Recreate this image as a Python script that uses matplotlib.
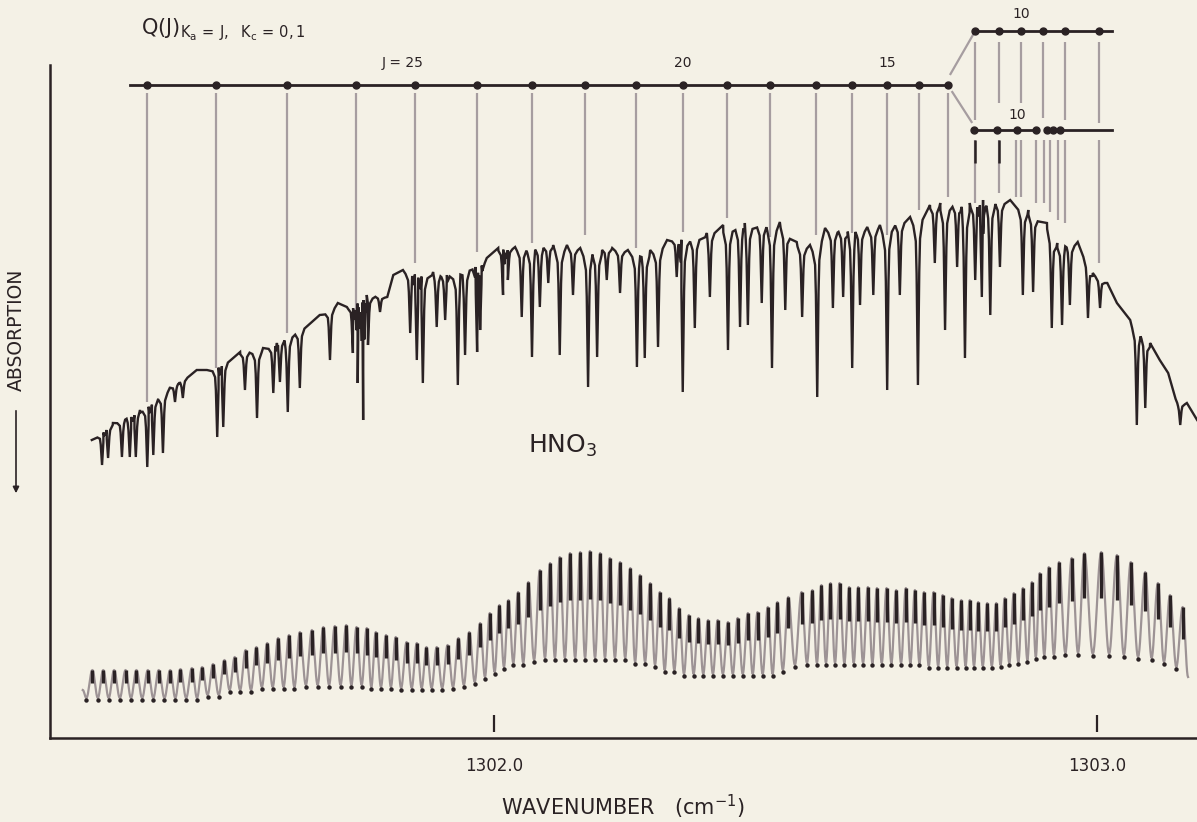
import numpy as np
import matplotlib
matplotlib.use("Agg")
import matplotlib.pyplot as plt

plt.rcParams['font.family'] = ['DejaVu Sans']
plt.rcParams['mathtext.fontset'] = 'dejavusans'

# ---------------- data (wavenumber in cm^-1, heights in arbitrary chart units) ----------------
tick_values = [1302.0, 1303.0]
tick_labels = ['1302.0', '1303.0']
x_range = [1301.2637, 1303.1658]

# HNO3 absorption spectrum: envelope between lines
cont_wn = [1301.333, 1301.368, 1301.413, 1301.463, 1301.479, 1301.507, 1301.524, 1301.579, 1301.617, 1301.640,
           1301.711, 1301.741, 1301.756, 1301.789, 1301.823, 1301.833, 1301.849, 1301.899, 1301.922, 1301.988,
           1302.007, 1302.035, 1302.098, 1302.121, 1302.143, 1302.196, 1302.222, 1302.259, 1302.287, 1302.353,
           1302.380, 1302.416, 1302.474, 1302.502, 1302.524, 1302.549, 1302.619, 1302.640, 1302.690, 1302.723,
           1302.740, 1302.789, 1302.811, 1302.856, 1302.886, 1302.917, 1302.934, 1302.968, 1302.993, 1303.017,
           1303.033, 1303.055, 1303.088, 1303.104, 1303.118, 1303.133, 1303.149, 1303.166]
cont_h = [298, 315, 328, 351, 356, 368, 368, 386, 390, 395,
          423, 435, 431, 443, 441, 463, 468, 466, 463, 480,
          490, 491, 493, 493, 490, 490, 488, 488, 498, 505,
          513, 515, 516, 496, 493, 510, 511, 513, 521, 533,
          535, 535, 538, 538, 528, 515, 495, 496, 465, 455,
          435, 418, 395, 378, 365, 335, 335, 318]

# absorption lines: position and bottom of the dip
line_wn = [1301.350, 1301.360, 1301.383, 1301.396, 1301.406, 1301.425, 1301.435, 1301.451, 1301.471, 1301.484,
           1301.541, 1301.551, 1301.587, 1301.607, 1301.634, 1301.645, 1301.658, 1301.678, 1301.728, 1301.766,
           1301.774, 1301.783, 1301.791, 1301.811, 1301.861, 1301.872, 1301.882, 1301.905, 1301.919, 1301.940,
           1301.952, 1301.972, 1301.977, 1302.015, 1302.023, 1302.046, 1302.063, 1302.076, 1302.090, 1302.109,
           1302.131, 1302.156, 1302.171, 1302.187, 1302.209, 1302.237, 1302.250, 1302.272, 1302.303, 1302.313,
           1302.333, 1302.358, 1302.388, 1302.408, 1302.421, 1302.444, 1302.461, 1302.483, 1302.511, 1302.536,
           1302.562, 1302.579, 1302.594, 1302.607, 1302.629, 1302.652, 1302.673, 1302.703, 1302.731, 1302.748,
           1302.768, 1302.781, 1302.798, 1302.809, 1302.823, 1302.839, 1302.877, 1302.894, 1302.925, 1302.942,
           1302.955, 1302.985, 1303.005, 1303.066, 1303.080, 1303.138]
line_h = [273, 280, 281, 281, 281, 271, 283, 285, 336, 340,
          301, 311, 348, 320, 345, 356, 326, 350, 378, 385,
          355, 318, 393, 426, 405, 378, 355, 411, 418, 353,
          383, 386, 408, 443, 458, 421, 381, 431, 455, 383,
          443, 351, 381, 458, 445, 371, 380, 391, 461, 346,
          410, 441, 388, 411, 413, 435, 370, 428, 421, 341,
          430, 441, 370, 433, 443, 348, 443, 353, 475, 408,
          471, 380, 458, 441, 423, 471, 443, 446, 410, 413,
          433, 420, 430, 313, 330, 313]

# etalon fringe trace (bottom): peak positions, peak tops, following troughs
fringe_start = [1301.318, 48]
fringe_first_trough = [1301.324, 40]
fringe_end_wn = 1303.151
fringe_peak_wn = [1301.334, 1301.352, 1301.370, 1301.389, 1301.407, 1301.426, 1301.444, 1301.463, 1301.480, 1301.499,
                  1301.516, 1301.534, 1301.553, 1301.570, 1301.588, 1301.606, 1301.624, 1301.642, 1301.660, 1301.678,
                  1301.698, 1301.717, 1301.736, 1301.755, 1301.772, 1301.789, 1301.804, 1301.821, 1301.837, 1301.855,
                  1301.872, 1301.888, 1301.905, 1301.923, 1301.941, 1301.959, 1301.977, 1301.993, 1302.009, 1302.024,
                  1302.040, 1302.057, 1302.076, 1302.093, 1302.109, 1302.126, 1302.143, 1302.159, 1302.176, 1302.192,
                  1302.209, 1302.226, 1302.242, 1302.259, 1302.275, 1302.291, 1302.307, 1302.323, 1302.339, 1302.355,
                  1302.371, 1302.388, 1302.404, 1302.421, 1302.437, 1302.454, 1302.470, 1302.488, 1302.510, 1302.528,
                  1302.543, 1302.558, 1302.573, 1302.589, 1302.604, 1302.620, 1302.635, 1302.651, 1302.667, 1302.683,
                  1302.698, 1302.713, 1302.729, 1302.744, 1302.759, 1302.775, 1302.789, 1302.803, 1302.818, 1302.833,
                  1302.847, 1302.862, 1302.877, 1302.892, 1302.905, 1302.920, 1302.937, 1302.958, 1302.979, 1303.007,
                  1303.033, 1303.056, 1303.080, 1303.101, 1303.121, 1303.142]
fringe_peak_top = [68, 68, 68, 68, 68, 68, 68, 68, 69, 70,
                   71, 74, 78, 81, 88, 91, 95, 100, 103, 106,
                   108, 111, 112, 113, 111, 110, 106, 103, 101, 96,
                   95, 91, 91, 93, 100, 106, 115, 125, 133, 138,
                   146, 156, 168, 175, 181, 185, 186, 187, 185, 180,
                   176, 170, 163, 155, 146, 140, 130, 123, 120, 118,
                   118, 116, 120, 125, 126, 131, 136, 141, 146, 148,
                   153, 155, 155, 151, 151, 151, 150, 150, 148, 150,
                   148, 146, 146, 143, 140, 138, 138, 136, 135, 135,
                   140, 145, 150, 156, 165, 171, 176, 180, 185, 186,
                   183, 176, 166, 155, 143, 131]
fringe_trough = [40, 40, 40, 40, 40, 40, 40, 40, 40, 40,
                 43, 43, 48, 48, 48, 51, 51, 51, 51, 53,
                 53, 53, 53, 53, 53, 51, 51, 51, 50, 50,
                 50, 50, 50, 51, 53, 56, 61, 66, 71, 75,
                 75, 78, 80, 80, 80, 80, 80, 80, 80, 80,
                 80, 76, 76, 73, 68, 68, 64, 64, 64, 64,
                 64, 64, 64, 64, 64, 64, 68, 73, 75, 75,
                 75, 75, 75, 75, 75, 75, 75, 75, 75, 75,
                 75, 72, 72, 72, 72, 72, 72, 72, 72, 73,
                 75, 76, 78, 81, 83, 83, 85, 85, 84, 84,
                 83, 81, 80, 76, 71, 61]

# Q(J) assignment comb, Ka = J, Kc = 0,1
q_main_J = [29, 28, 27, 26, 25, 24, 23, 22, 21, 20, 19, 18, 17, 16, 15, 14, 13]
q_main_wn = [1301.425, 1301.539, 1301.657, 1301.771, 1301.869, 1301.972, 1302.063, 1302.151, 1302.235, 1302.313,
             1302.386, 1302.458, 1302.534, 1302.594, 1302.652, 1302.705, 1302.753]
q_main_end = [336, 370, 405, 428, 475, 486, 495, 503, 490, 506, 520, 501, 503, 505, 503, 528, 541]
q_main_labels = {25: 'J = 25', 20: '20', 15: '15'}

q_upper_J = [12, 11, 10, 9, 8, 7]
q_upper_wn = [1302.798, 1302.837, 1302.874, 1302.910, 1302.947, 1303.003]
q_upper_end = [618, 635, 635, 620, 618, 615]

q_lower_wn = [1302.796, 1302.834, 1302.867, 1302.899, 1302.917, 1302.927, 1302.939]
q_lower_drop_wn = [1302.798, 1302.837, 1302.866, 1302.874, 1302.899, 1302.912, 1302.922, 1302.935, 1302.947, 1303.003]
q_lower_drop_end = [535, 545, 541, 541, 535, 535, 526, 518, 515, 475]

# ---------------- style ----------------
W, H, DPI = 1197, 822, 100
BG = '#f4f1e6'
INK = '#2a2224'
GRAY = '#a69da0'
FRINGE = '#9d9395'

COMB_MAIN_H, COMB_UP_H, COMB_LOW_H = 653, 707, 608
DROP_MAIN_TOP, DROP_UP_TOP, DROP_LOW_TOP = 645, 696, 598

fig = plt.figure(figsize=(W / DPI, H / DPI), dpi=DPI, facecolor=BG)
ax = fig.add_axes([50 / W, 84 / H, 1147 / W, 738 / H])
ax.set_facecolor(BG)
ax.set_xlim(*x_range)
ax.set_ylim(0, 738)
for s in ('top', 'right'):
    ax.spines[s].set_visible(False)
for s in ('left', 'bottom'):
    ax.spines[s].set_color(INK)
    ax.spines[s].set_linewidth(1.8)
ax.spines['left'].set_bounds(0, 673)
ax.set_yticks([])
ax.set_xticks(tick_values)
ax.set_xticklabels(tick_labels, fontsize=12, color=INK)
ax.tick_params(axis='x', length=0, pad=14)
ax.vlines(tick_values, 6, 23, color=INK, lw=1.6)

# ---- upper spectrum ----
cw = np.array(cont_wn)
ch = np.array(cont_h)
dw = 0.0022
xs = list(cw)
ys = list(ch)
for w, b in zip(line_wn, line_h):
    c0 = np.interp(w, cw, ch)
    depth = c0 - b
    for k, frac in ((3.5, 0.06), (1.6, 0.16), (1.0, 0.35)):
        for ww in (w - k * dw, w + k * dw):
            xs.append(ww)
            ys.append(np.interp(ww, cw, ch) - frac * depth)
    xs.append(w)
    ys.append(b)
xs = np.array(xs)
ys = np.array(ys)
order = np.argsort(xs, kind='stable')
xs, ys = xs[order], ys[order]
# where dips overlap keep the lowest value at each point
ax.plot(xs, ys, color=INK, lw=1.7, solid_joinstyle='miter', zorder=3)

# ---- fringe trace ----
pk_w = np.array(fringe_peak_wn)
pk_t = np.array(fringe_peak_top)
tr_b = np.array(fringe_trough)
tr_w = np.append((pk_w[:-1] + pk_w[1:]) / 2, fringe_end_wn)
node_w = [fringe_start[0], fringe_first_trough[0]]
node_h = [fringe_start[1], fringe_first_trough[1]]
for a, b, c, d in zip(pk_w, pk_t, tr_w, tr_b):
    node_w += [a, c]
    node_h += [b, d]
cx, cy = [], []
t = np.linspace(0, 1, 12)
for i in range(len(node_w) - 1):
    x0, x1 = node_w[i], node_w[i + 1]
    y0, y1 = node_h[i], node_h[i + 1]
    cx.extend(x0 + (x1 - x0) * t)
    cy.extend(y0 + (y1 - y0) * (1 - np.cos(np.pi * t)) / 2)
ax.plot(cx, cy, color=FRINGE, lw=1.6, zorder=2)
ax.vlines(pk_w, pk_t - 0.45 * (pk_t - tr_b), pk_t, color=INK, lw=2.4, zorder=3)
ax.plot(np.append(fringe_first_trough[0], tr_w[:-1]), np.append(fringe_first_trough[1], tr_b[:-1]) - 2,
        'o', color=INK, ms=3.2, mec='none', zorder=3)

# ---- assignment comb ----
ax.vlines(q_main_wn, q_main_end, DROP_MAIN_TOP, color=GRAY, lw=1.6, zorder=1)
ax.vlines(q_upper_wn, q_upper_end, DROP_UP_TOP, color=GRAY, lw=1.6, zorder=1)
ax.vlines(q_lower_drop_wn, q_lower_drop_end, DROP_LOW_TOP, color=GRAY, lw=1.6, zorder=1)
ax.vlines(q_lower_drop_wn[:2], 575, DROP_LOW_TOP, color=INK, lw=1.8, zorder=1)

comb_end = 1303.025
ax.plot([q_main_wn[0] - 0.028, q_main_wn[-1]], [COMB_MAIN_H, COMB_MAIN_H], color=INK, lw=2, zorder=4)
ax.plot(q_main_wn, [COMB_MAIN_H] * len(q_main_wn), 'o', color=INK, ms=5, zorder=5)
ax.plot([q_upper_wn[0], comb_end], [COMB_UP_H, COMB_UP_H], color=INK, lw=2, zorder=4)
ax.plot(q_upper_wn, [COMB_UP_H] * len(q_upper_wn), 'o', color=INK, ms=5, zorder=5)
ax.plot([q_lower_wn[0], q_lower_wn[3]], [COMB_LOW_H, COMB_LOW_H], color=INK, lw=2, zorder=4)
ax.plot([q_lower_wn[4], comb_end], [COMB_LOW_H, COMB_LOW_H], color=INK, lw=2, zorder=4)
ax.plot(q_lower_wn, [COMB_LOW_H] * len(q_lower_wn), 'o', color=INK, ms=5, zorder=5)
# branch connectors
ax.plot([q_main_wn[-1] + 0.004, q_upper_wn[0]], [COMB_MAIN_H + 11, COMB_UP_H], color=GRAY, lw=1.6)
ax.plot([q_main_wn[-1] + 0.007, q_lower_wn[0] - 0.004], [COMB_MAIN_H - 7, COMB_LOW_H + 8], color=GRAY, lw=1.6)

for j, wn in zip(q_main_J, q_main_wn):
    if j in q_main_labels:
        off = -12 if j == 25 else 0
        ax.annotate(q_main_labels[j], (wn, 675), xytext=(off, 0), textcoords='offset pixels',
                    ha='center', va='center', fontsize=10, color=INK)
ax.text(q_upper_wn[2], 724, '10', ha='center', va='center', fontsize=10, color=INK)
ax.text(q_lower_wn[2], 623, '10', ha='center', va='center', fontsize=10, color=INK)

ax.text(1301.414, 704, r'Q(J)$_{\mathregular{K_a\,=\,J,\ \ K_c\,=\,0,1}}$', fontsize=15, color=INK,
        ha='left', va='baseline')
ax.text(1302.056, 285, r'HNO$_3$', fontsize=18, color=INK, ha='left', va='baseline')

# ---- outer labels ----
fig.text(623 / W, 1 - 807 / H, r'WAVENUMBER   (cm$^{-1}$)', ha='center', va='center', fontsize=15, color=INK)
fig.text(16 / W, 1 - 330 / H, 'ABSORPTION', rotation=90, ha='center', va='center', fontsize=13.5, color=INK)
fig.add_artist(matplotlib.patches.FancyArrowPatch((16 / W, 1 - 408 / H), (16 / W, 1 - 496 / H),
                                                  transform=fig.transFigure, arrowstyle='-|>',
                                                  mutation_scale=9, color=INK, lw=1.2))

fig.savefig('out.png', dpi=DPI, facecolor=BG)
